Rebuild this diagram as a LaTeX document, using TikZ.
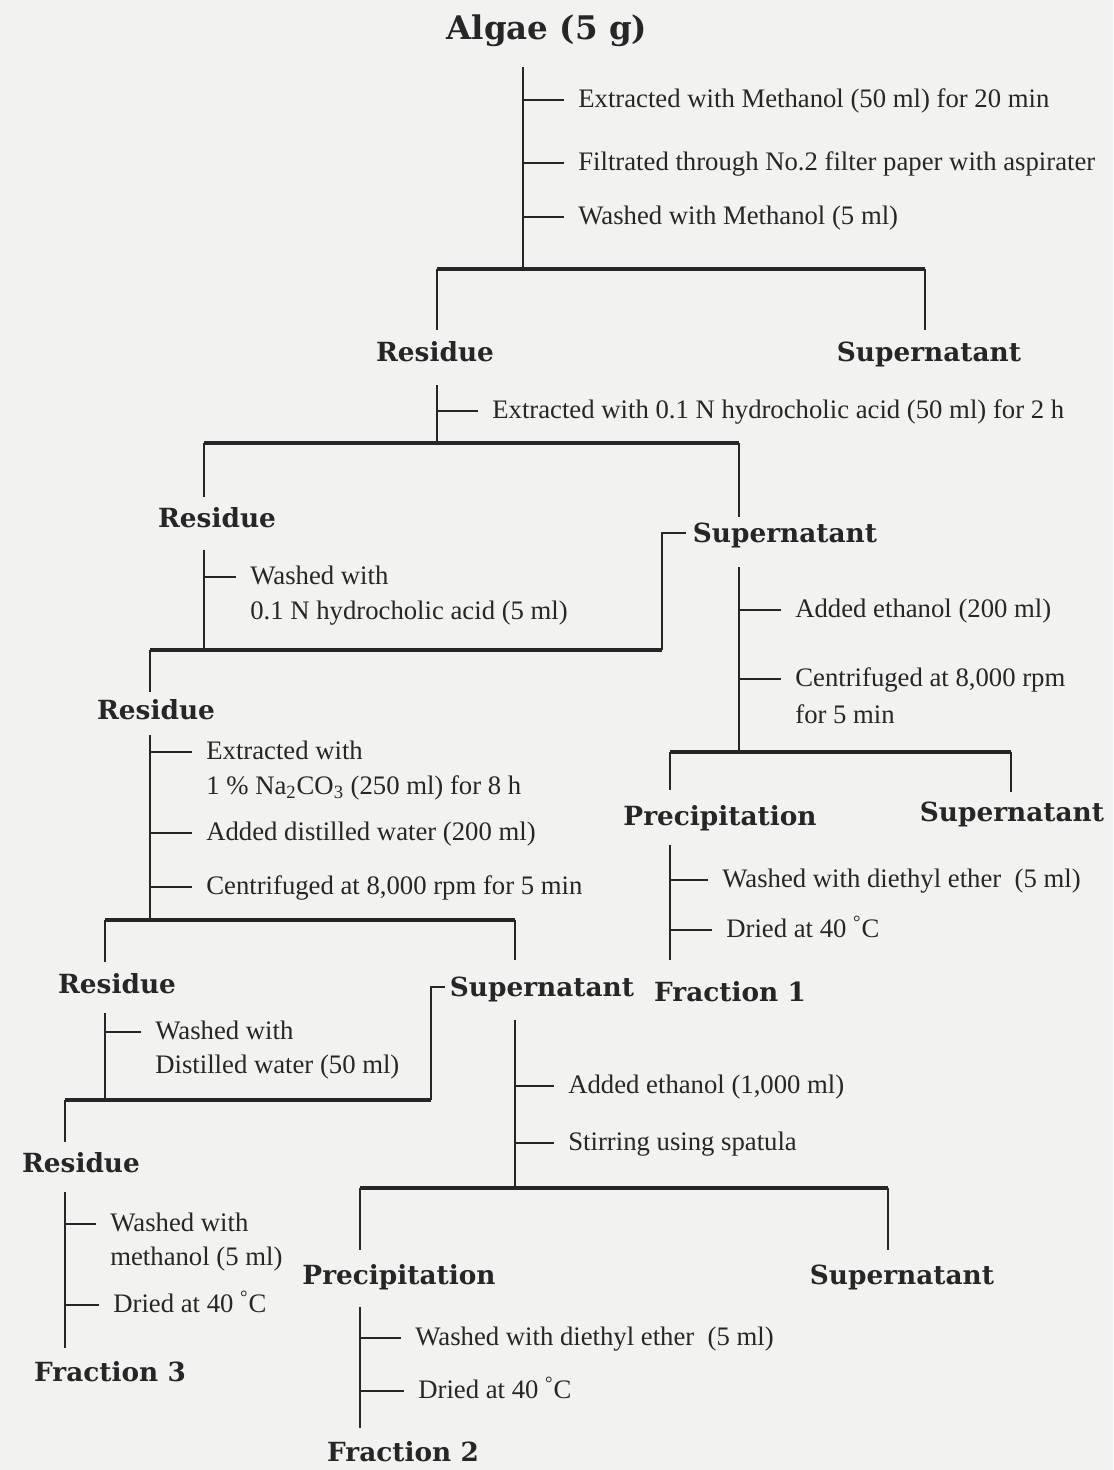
\documentclass[tikz,border=0pt]{standalone}
\usepackage{fontspec}
\setmainfont{Liberation Serif}
\newfontfamily\headfamily{DejaVu Serif}
\usetikzlibrary{calc}
\definecolor{paper}{RGB}{242,242,240}
\definecolor{ink}{RGB}{38,38,38}
\newcommand{\spinewidth}{1.1pt}
\newcommand{\barwidth}{1.8pt}
\newcommand{\tickwidth}{1.4pt}
\tikzset{
  head/.style={font=\headfamily\bfseries\fontsize{15}{18}\selectfont, text=ink, inner sep=0pt, text height=12pt, text depth=1pt},
  note/.style={font=\fontsize{15.2}{18}\selectfont, text=ink, inner sep=0pt, anchor=west, text height=11pt, text depth=2pt},
  spine/.style={draw=ink, line width=\spinewidth},
  bar/.style={draw=ink, line width=\barwidth},
  tick/.style={draw=ink, line width=\tickwidth, shorten >=8pt},
}

\begin{document}
\begin{tikzpicture}[x=0.02cm, y=-0.02cm]
\fill[paper] (0,0) rectangle (1113,1470);
\useasboundingbox (0,0) rectangle (1113,1470);
%headings
\node[head, font=\headfamily\bfseries\fontsize{18.5}{22}\selectfont] (algae) at (547,30) {Algae (5 g)};
\node[head] (res1) at (435,352) {Residue};
\node[head] (sup1) at (929,352) {Supernatant};
\node[head] (res2) at (217,518) {Residue};
\node[head] (sup2) at (785,533) {Supernatant};
\node[head] (res3) at (156,710) {Residue};
\node[head] (prec1) at (720,816) {Precipitation};
\node[head] (sup3) at (1012,812) {Supernatant};
\node[head] (frac1) at (730,992) {Fraction 1};
\node[head] (res4) at (117,984) {Residue};
\node[head] (sup4) at (542,987) {Supernatant};
\node[head] (res5) at (81,1163) {Residue};
\node[head] (prec2) at (399,1275) {Precipitation};
\node[head] (sup5) at (902,1275) {Supernatant};
\node[head] (frac3) at (110,1372) {Fraction 3};
\node[head] (frac2) at (403,1452) {Fraction 2};
%notes
\node[note] (n1) at (578,100) {Extracted with Methanol (50 ml) for 20 min};
\node[note] (n2) at (578,163) {Filtrated through No.2 filter paper with aspirater};
\node[note] (n3) at (578,217) {Washed with Methanol (5 ml)};
\node[note] (n4) at (492,411) {Extracted with 0.1 N hydrocholic acid (50 ml) for 2 h};
\node[note] (n5) at (250,577) {Washed with};
\node[note] (n5b) at (250,612) {0.1 N hydrocholic acid (5 ml)};
\node[note] (n6) at (795,610) {Added ethanol (200 ml)};
\node[note] (n7) at (795,679) {Centrifuged at 8,000 rpm};
\node[note] (n7b) at (795,716) {for 5 min};
\node[note] (n8) at (206,752) {Extracted with};
\node[note] (n8b) at (206,787) {1 \% Na\textsubscript{2}CO\textsubscript{3} (250 ml) for 8 h};
\node[note] (n9) at (206,833) {Added distilled water (200 ml)};
\node[note] (n10) at (206,887) {Centrifuged at 8,000 rpm for 5 min};
\node[note] (n11) at (722,880) {Washed with diethyl ether\ \ (5 ml)};
\node[note] (n12) at (726,930) {Dried at 40 \textsuperscript{°}C};
\node[note] (n13) at (155,1032) {Washed with};
\node[note] (n13b) at (155,1066) {Distilled water (50 ml)};
\node[note] (n14) at (568,1086) {Added ethanol (1,000 ml)};
\node[note] (n15) at (568,1143) {Stirring using spatula};
\node[note] (n16) at (110,1224) {Washed with};
\node[note] (n16b) at (110,1258) {methanol (5 ml)};
\node[note] (n17) at (113,1305) {Dried at 40 \textsuperscript{°}C};
\node[note] (n18) at (415,1338) {Washed with diethyl ether\ \ (5 ml)};
\node[note] (n19) at (418,1391) {Dried at 40 \textsuperscript{°}C};
%algae
\coordinate (aTop) at (523,67);
\coordinate (aJ) at (523,269);
\coordinate (aL) at (437,269);
\coordinate (aR) at (925,269);
\coordinate (aLd) at (437,330);
\coordinate (aRd) at (925,330);
\draw[spine] (aTop) -- (aJ);
\draw[bar] (aL) -- (aR);
\draw[spine] (aL) -- (aLd);
\draw[spine] (aR) -- (aRd);
\draw[tick] (aTop |- n1.west) -- (n1.west);
\draw[tick] (aTop |- n2.west) -- (n2.west);
\draw[tick] (aTop |- n3.west) -- (n3.west);
%residue 1
\coordinate (bTop) at (437,385);
\coordinate (bJ) at (437,443);
\coordinate (bL) at (204,443);
\coordinate (bR) at (739,443);
\coordinate (bLd) at (204,497);
\coordinate (bRd) at (739,517);
\draw[spine] (bTop) -- (bJ);
\draw[bar] (bL) -- (bR);
\draw[spine] (bL) -- (bLd);
\draw[spine] (bR) -- (bRd);
\draw[tick] (bTop |- n4.west) -- (n4.west);
%residue 2
\coordinate (cTop) at (204,550);
\coordinate (cJ) at (204,650);
\coordinate (cL) at (150,650);
\coordinate (cR) at (662,650);
\coordinate (cLd) at (150,692);
\draw[spine] (cTop) -- (cJ);
\draw[bar] (cL) -- (cR);
\draw[spine] (cL) -- (cLd);
\draw[spine, shorten >=4pt] (cR) -- (cR |- sup2.west) -- (sup2.west);
\draw[tick] (cTop |- n5.west) -- (n5.west);
%supernatant 2
\coordinate (dTop) at (739,567);
\coordinate (dJ) at (739,752);
\coordinate (dL) at (670,752);
\coordinate (dR) at (1011,752);
\coordinate (dLd) at (670,790);
\coordinate (dRd) at (1011,792);
\draw[spine] (dTop) -- (dJ);
\draw[bar] (dL) -- (dR);
\draw[spine] (dL) -- (dLd);
\draw[spine] (dR) -- (dRd);
\draw[tick] (dTop |- n6.west) -- (n6.west);
\draw[tick] (dTop |- n7.west) -- (n7.west);
%precipitation 1
\coordinate (eTop) at (670,845);
\coordinate (eBot) at (670,960);
\draw[spine] (eTop) -- (eBot);
\draw[tick] (eTop |- n11.west) -- (n11.west);
\draw[tick] (eTop |- n12.west) -- (n12.west);
%residue 3
\coordinate (fTop) at (150,735);
\coordinate (fJ) at (150,920);
\coordinate (fL) at (105,920);
\coordinate (fR) at (515,920);
\coordinate (fLd) at (105,962);
\coordinate (fRd) at (515,960);
\draw[spine] (fTop) -- (fJ);
\draw[bar] (fL) -- (fR);
\draw[spine] (fL) -- (fLd);
\draw[spine] (fR) -- (fRd);
\draw[tick] (fTop |- n8.west) -- (n8.west);
\draw[tick] (fTop |- n9.west) -- (n9.west);
\draw[tick] (fTop |- n10.west) -- (n10.west);
%residue 4
\coordinate (gTop) at (105,1013);
\coordinate (gJ) at (105,1100);
\coordinate (gL) at (65,1100);
\coordinate (gR) at (431,1100);
\coordinate (gLd) at (65,1142);
\draw[spine] (gTop) -- (gJ);
\draw[bar] (gL) -- (gR);
\draw[spine] (gL) -- (gLd);
\draw[spine, shorten >=2.5pt] (gR) -- (gR |- sup4.west) -- (sup4.west);
\draw[tick] (gTop |- n13.west) -- (n13.west);
%supernatant 4
\coordinate (hTop) at (515,1020);
\coordinate (hJ) at (515,1188);
\coordinate (hL) at (360,1188);
\coordinate (hR) at (888,1188);
\coordinate (hLd) at (360,1250);
\coordinate (hRd) at (888,1250);
\draw[spine] (hTop) -- (hJ);
\draw[bar] (hL) -- (hR);
\draw[spine] (hL) -- (hLd);
\draw[spine] (hR) -- (hRd);
\draw[tick] (hTop |- n14.west) -- (n14.west);
\draw[tick] (hTop |- n15.west) -- (n15.west);
%precipitation 2
\coordinate (iTop) at (360,1307);
\coordinate (iBot) at (360,1428);
\draw[spine] (iTop) -- (iBot);
\draw[tick] (iTop |- n18.west) -- (n18.west);
\draw[tick] (iTop |- n19.west) -- (n19.west);
%residue 5
\coordinate (kTop) at (65,1192);
\coordinate (kBot) at (65,1348);
\draw[spine] (kTop) -- (kBot);
\draw[tick] (kTop |- n16.west) -- (n16.west);
\draw[tick] (kTop |- n17.west) -- (n17.west);
\end{tikzpicture}
\end{document}
